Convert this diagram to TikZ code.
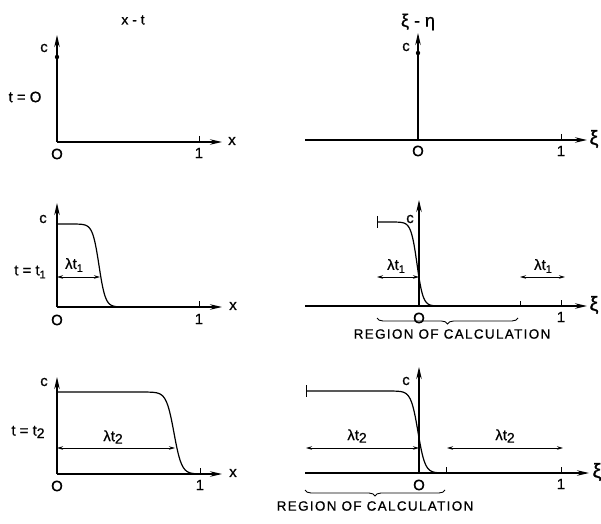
\documentclass[tikz,border=0pt]{standalone}
\usepackage{fontspec}
\setmainfont{Liberation Sans}[FakeBold=0.9]
\usetikzlibrary{arrows.meta,decorations.pathreplacing}
\newcommand\lowsub[1]{\raisebox{-3bp}{\fontsize{11}{11}\selectfont #1}}
\newcommand\lowsubb[1]{\raisebox{-2.5bp}{\fontsize{14}{14}\selectfont #1}}
\begin{document}
\begin{tikzpicture}[x=1bp,y=-1bp,
  axis/.style={line width=1.2bp,-{Stealth[length=12bp,width=5.5bp]}},
  dim/.style={line width=0.9bp,{Stealth[length=6bp,width=3.5bp]}-{Stealth[length=6bp,width=3.5bp]}},
  curve/.style={line width=1.2bp},
  tick/.style={line width=0.9bp},
  lbl/.style={font=\fontsize{15}{15}\selectfont, inner sep=0pt},
  big/.style={font=\fontsize{20}{20}\selectfont, inner sep=0pt},
  region/.style={font=\fontsize{13.5}{14}\selectfont\addfontfeatures{LetterSpace=10}, inner sep=0pt},
  brace/.style={decorate,decoration={brace,mirror,amplitude=6bp},line width=0.9bp}]
\useasboundingbox (0,0) rectangle (601,524);

% ---------- panel 1 : x-t, t=0
\coordinate (o1) at (57,142);
\coordinate (y1) at (57,35);
\coordinate (x1) at (222,142);
\draw[axis] (o1) -- (y1);
\draw[axis] (o1) -- (x1);
\fill (57,57) circle (2.2bp);
\draw[tick] (199,136) -- (199,142);
\node[lbl] (c1) at (44,48) {c};
\node[lbl] (xl1) at (232,141) {x};
\node[lbl] (O1) at (57,154) {O};
\node[lbl] (one1) at (199,153) {1};
\node[lbl] (t1) at (25,97) {t = O};
\node[lbl,font=\fontsize{14}{14}\selectfont] (title1) at (133,20) {x - t};

% ---------- panel 2 : xi-eta, t=0
\coordinate (o2) at (418,140);
\coordinate (y2) at (418,33);
\coordinate (l2) at (305,140);
\coordinate (r2) at (587,140);
\draw[axis] (l2) -- (r2);
\draw[axis] (o2) -- (y2);
\fill (418,53) circle (2.2bp);
\draw[tick] (561,134) -- (561,140);
\node[lbl] (c2) at (406,47) {c};
\node[big] (xi2) at (594,139) {ξ};
\node[lbl] (O2) at (418,151) {O};
\node[lbl] (one2) at (561,151) {1};
\node[lbl,font=\fontsize{18}{18}\selectfont] (title2) at (418,22) {ξ - η};

% ---------- panel 3 : x-t, t=t1
\coordinate (o3) at (57,307);
\coordinate (y3) at (57,203);
\coordinate (x3) at (222,307);
\draw[axis] (o3) -- (y3);
\draw[axis] (o3) -- (x3);
\draw[curve] plot[domain=57:125,samples=120] (\x,{307-83/(1+exp((\x-99)/3.2))});
\coordinate (a3l) at (57,277);
\coordinate (a3r) at (100,277);
\draw[dim] (a3l) -- (a3r);
\draw[tick] (199,301) -- (199,307);
\node[lbl] (c3) at (43,219) {c};
\node[lbl] (xl3) at (233,306) {x};
\node[lbl] (O3) at (57,320) {O};
\node[lbl] (one3) at (199,319) {1};
\node[lbl] (t3) at (30,272) {t = t\lowsub{1}};
\node[lbl] (lam3) at (74,265) {λt\lowsub{1}};

% ---------- panel 4 : xi-eta, t=t1
\coordinate (o4) at (419,306);
\coordinate (y4) at (419,200);
\coordinate (l4) at (305,306);
\coordinate (r4) at (587,306);
\draw[axis] (l4) -- (r4);
\draw[axis] (o4) -- (y4);
\draw[curve] plot[domain=377:445,samples=120] (\x,{306-84/(1+exp((\x-417)/3))});
\draw[tick] (377,216) -- (377,228);
\coordinate (a4l) at (377,277);
\coordinate (a4r) at (419,277);
\draw[dim] (a4l) -- (a4r);
\coordinate (b4l) at (520,277);
\coordinate (b4r) at (565,277);
\draw[dim] (b4l) -- (b4r);
\draw[tick] (520,301) -- (520,306);
\draw[tick] (561,300) -- (561,306);
\node[lbl] (c4) at (410,219) {c};
\node[big] (xi4) at (594,305) {ξ};
\node[lbl] (O4) at (419,318) {O};
\node[lbl] (one4) at (561,317) {1};
\node[lbl] (lam4a) at (396,266) {λt\lowsub{1}};
\node[lbl] (lam4b) at (543,266) {λt\lowsub{1}};
\coordinate (br4l) at (377,318);
\coordinate (br4r) at (518,318);
\draw[brace] (br4l) -- (br4r);
\node[region] (reg4) at (452,334) {REGION OF CALCULATION};

% ---------- panel 5 : x-t, t=t2
\coordinate (o5) at (57,474);
\coordinate (y5) at (57,377);
\coordinate (x5) at (222,474);
\draw[axis] (o5) -- (y5);
\draw[axis] (o5) -- (x5);
\draw[curve] plot[domain=57:205,samples=160] (\x,{474-82/(1+exp((\x-174)/3.8))});
\coordinate (a5l) at (57,448);
\coordinate (a5r) at (175,448);
\draw[dim] (a5l) -- (a5r);
\draw[tick] (200,468) -- (200,474);
\node[lbl] (c5) at (44,382) {c};
\node[lbl] (xl5) at (233,473) {x};
\node[lbl] (O5) at (57,486) {O};
\node[lbl] (one5) at (200,485) {1};
\node[lbl] (t5) at (28,432) {t = t\lowsubb{2}};
\node[lbl] (lam5) at (113,437) {λt\lowsubb{2}};

% ---------- panel 6 : xi-eta, t=t2
\coordinate (o6) at (419,473);
\coordinate (y6) at (419,367);
\coordinate (l6) at (305,473);
\coordinate (r6) at (589,473);
\draw[axis] (l6) -- (r6);
\draw[axis] (o6) -- (y6);
\draw[curve] plot[domain=306:445,samples=160] (\x,{473-82/(1+exp((\x-418)/3.5))});
\draw[tick] (306,385) -- (306,397);
\coordinate (a6l) at (306,448);
\coordinate (a6r) at (419,448);
\draw[dim] (a6l) -- (a6r);
\coordinate (b6l) at (447,448);
\coordinate (b6r) at (563,448);
\draw[dim] (b6l) -- (b6r);
\draw[tick] (446,467) -- (446,473);
\draw[tick] (561,467) -- (561,473);
\node[lbl] (c6) at (406,381) {c};
\node[big] (xi6) at (597,472) {ξ};
\node[lbl] (O6) at (419,485) {O};
\node[lbl] (one6) at (561,484) {1};
\node[lbl] (lam6a) at (357,436) {λt\lowsubb{2}};
\node[lbl] (lam6b) at (505,436) {λt\lowsubb{2}};
\coordinate (br6l) at (305,490);
\coordinate (br6r) at (445,490);
\draw[brace] (br6l) -- (br6r);
\node[region] (reg6) at (375,506) {REGION OF CALCULATION};
\end{tikzpicture}
\end{document}
